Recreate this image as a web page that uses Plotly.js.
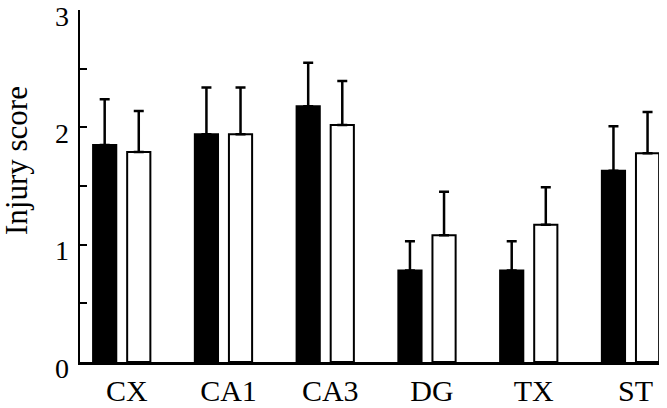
<!DOCTYPE html>
<html>
<head>
<meta charset="utf-8">
<script src="https://cdn.plot.ly/plotly-3.0.1.min.js"></script>
<style>html,body{margin:0;padding:0;background:#fff;}#chart{width:667px;height:408px;}</style>
</head>
<body>
<div id="chart"></div>
<script>
var categories = ['CX', 'CA1', 'CA3', 'DG', 'TX', 'ST'];
var blackValues = [1.85, 1.94, 2.18, 0.78, 0.78, 1.63];
var blackErrors = [0.39, 0.40, 0.37, 0.25, 0.25, 0.38];
var whiteValues = [1.79, 1.94, 2.02, 1.08, 1.17, 1.78];
var whiteErrors = [0.35, 0.40, 0.375, 0.37, 0.32, 0.35];
var yTickVals = [0, 0.5, 1, 1.5, 2, 2.5, 3];
var yTickText = ['0', '', '1', '', '2', '', '3'];
var yTitle = 'Injury score';

var zeros = categories.map(function () { return 0; });
var font = '"Liberation Serif", "Times New Roman", serif';

var traces = [
  {
    type: 'bar', x: categories, y: blackValues, name: 'black',
    marker: {color: '#000', line: {color: '#000', width: 2}},
    error_y: {type: 'data', symmetric: false, array: blackErrors, arrayminus: zeros,
              color: '#000', thickness: 2.5, width: 5}
  },
  {
    type: 'bar', x: categories, y: whiteValues, name: 'white',
    marker: {color: '#fff', line: {color: '#000', width: 2}},
    error_y: {type: 'data', symmetric: false, array: whiteErrors, arrayminus: zeros,
              color: '#000', thickness: 2.5, width: 5}
  }
];

var layout = {
  width: 667, height: 408,
  margin: {l: 80, r: 8, t: 10, b: 46},
  paper_bgcolor: '#fff', plot_bgcolor: '#fff',
  showlegend: false,
  barmode: 'group', bargap: 0.33, bargroupgap: 0.32,
  font: {family: font, color: '#000', size: 30},
  xaxis: {
    type: 'category', range: [-0.41, 5.28],
    showline: true, linecolor: '#000', linewidth: 2.5,
    ticks: '', showgrid: false, zeroline: false,
    tickfont: {family: font, size: 30, color: '#000'},
    ticklabelshift: 5
  },
  yaxis: {
    range: [0, 3],
    showline: true, linecolor: '#000', linewidth: 2.5,
    ticks: 'inside', ticklen: 7, tickwidth: 2, tickcolor: '#000',
    tickmode: 'array', tickvals: yTickVals, ticktext: yTickText,
    showgrid: false, zeroline: false,
    tickfont: {family: font, size: 28, color: '#000'},
    ticklabelstandoff: 3, ticklabelshift: 6,
    ticklabeloverflow: 'allow'
  },
  annotations: [{
    text: yTitle, xref: 'paper', yref: 'paper', x: -0.1105, y: 0.571,
    xanchor: 'center', yanchor: 'middle', textangle: -90, showarrow: false,
    font: {family: font, size: 31, color: '#000'}
  }]
};

Plotly.newPlot('chart', traces, layout, {displayModeBar: false, staticPlot: true});
</script>
</body>
</html>
